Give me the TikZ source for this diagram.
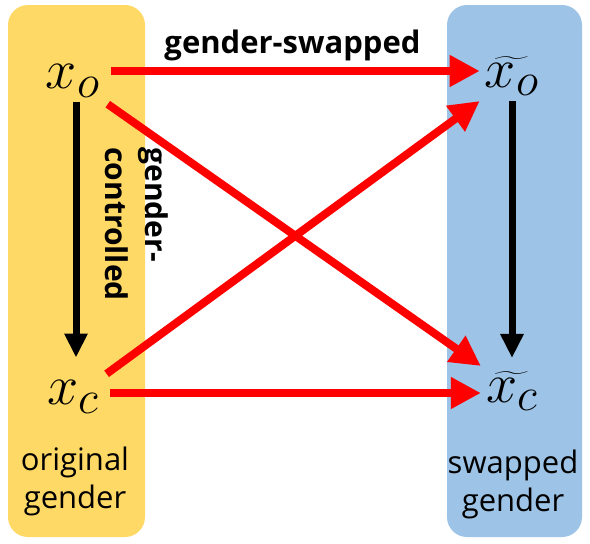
\documentclass[tikz,border=0pt]{standalone}
\usepackage{graphicx}
\usepackage{fontspec}
\setsansfont{Open Sans}
\usetikzlibrary{arrows.meta}
\definecolor{origfill}{RGB}{255,217,102}
\definecolor{swapfill}{RGB}{157,195,230}
\newcommand{\bigvar}[1]{\scalebox{2.25}{\fontsize{24.88}{25}\selectfont$#1$}}

\begin{document}
\begin{tikzpicture}[x=1pt,y=-1pt,line join=round,
	font=\sffamily\fontsize{31}{38}\selectfont,
	var/.style={inner sep=5pt},
	swap/.style={red,line width=8pt,-{Triangle[length=30pt,width=30pt]}},
	ctrl/.style={black,line width=7pt,-{Triangle[length=24pt,width=22pt]}}]
			\useasboundingbox (0,0) rectangle (590,544);
			\fill[origfill,rounded corners=20pt]
			(8,5) rectangle (145,537)
			;
			\fill[swapfill,rounded corners=20pt]
			(447,5) rectangle (582,537)
			;
			\node[var] (xo) at (73,81) {\bigvar{x_o}};
			\node[var] (xc) at (73,397) {\bigvar{x_c}};
			\node[var] (txo) at (512,76) {\bigvar{\widetilde{x_o}}};
			\node[var] (txc) at (512,391) {\bigvar{\widetilde{x_c}}};
			\node[align=center] (orig) at (75,481) {original\\gender};
			\node[align=center] (swp) at (513,484) {swapped\\gender};
			\node[font=\sffamily\bfseries\fontsize{30}{40}\selectfont,rotate=-90,
			anchor=north west,align=left] (ctrllbl) at (172,144) {gender-\\controlled};
			\draw[swap,shorten <=6pt]
			([yshift=10pt]xo.east) -- ([yshift=10pt]xo.east -| txo.west)
			node[midway,above=3pt,black,font=\sffamily\bfseries\fontsize{31}{34}\selectfont] (swaplbl) {gender-swapped}
			;
			\draw[swap,shorten <=6pt]
			([yshift=4pt]xc.east) -- ([yshift=4pt]xc.east -| txc.west)
			;
			\draw[swap,shorten <=3pt]
			(xo.south east) -- (txc.north west)
			;
			\draw[swap,shorten <=3pt]
			(xc.north east) -- (txo.south west)
			;
			\draw[ctrl,shorten >=18pt]
			([xshift=3pt]xo.south) -- ([xshift=3pt]xo.south |- xc.north)
			;
			\draw[ctrl,shorten >=8pt]
			(txo.south) -- (txo.south |- txc.north)
			;
\end{tikzpicture}
\end{document}
